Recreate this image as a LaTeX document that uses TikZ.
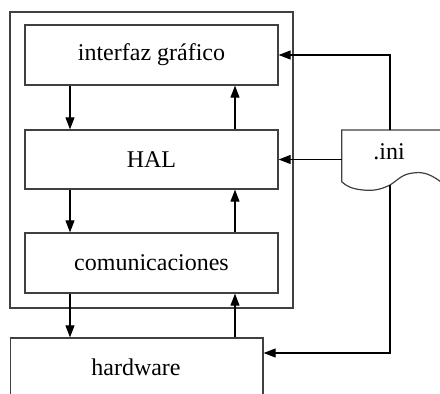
\documentclass[tikz,border=0pt]{standalone}
\usepackage{fontspec}
\setmainfont{Liberation Serif}
\usetikzlibrary{arrows.meta}
\begin{document}
\begin{tikzpicture}[x=1pt,y=-1pt,
  lbl/.style={font=\fontsize{24}{28}\selectfont},
  box/.style={draw=black!75,line width=1.3pt,rectangle,inner sep=0pt,minimum width=253pt,minimum height=60pt,lbl},
  arr/.style={line width=1.1pt,-{Triangle[length=12pt,width=9pt]}},
  conn/.style={line width=1.1pt}]
\useasboundingbox (0,0) rectangle (440,394);
\node[draw=black!75,line width=1.4pt,minimum width=283pt,minimum height=296pt,inner sep=0pt] (outer) at (151.5,160) {};
\node[box] (gui) at (151.5,55) {interfaz gráfico};
\node[box,minimum height=59pt] (hal) at (151.5,159.5) {HAL};
\node[box] (com) at (151.5,263) {comunicaciones};
\node[box,minimum width=252.5pt,minimum height=62pt] (hw) at (136.75,369) {};
\node[lbl] (hwt) at (136,367) {hardware};
\coordinate (dl) at (70,0);
\coordinate (ul) at (235,0);
\draw[arr] (gui.south -| dl) -- (hal.north -| dl);
\draw[arr] (hal.north -| ul) -- (gui.south -| ul);
\draw[arr] (hal.south -| dl) -- (com.north -| dl);
\draw[arr] (com.north -| ul) -- (hal.south -| ul);
\draw[arr] (com.south -| dl) -- (hw.north -| dl);
\draw[arr] (hw.north -| ul) -- (com.south -| ul);
% .ini document shape
\draw[draw=black!75,line width=1.2pt,fill=white] (341.7,130) -- (441,130) -- (441,182)
  .. controls (428,172) and (420,172) .. (413,173)
  .. controls (402,174) and (398,180) .. (390,185)
  .. controls (380,190) and (372,191) .. (363,190)
  .. controls (352,189) and (346,186) .. (341.7,181.7) -- cycle;
\node[lbl] (ini) at (389,152) {.ini};
\coordinate (initop) at (390,130);
\coordinate (inileft) at (341.7,159.5);
\coordinate (inibot) at (390,185);
\draw[arr] (initop) |- (gui.east);
\draw[arr] (inileft) -- (hal.east);
\draw[arr] (inibot) |- ([yshift=16pt]hw.east);
\end{tikzpicture}
\end{document}
